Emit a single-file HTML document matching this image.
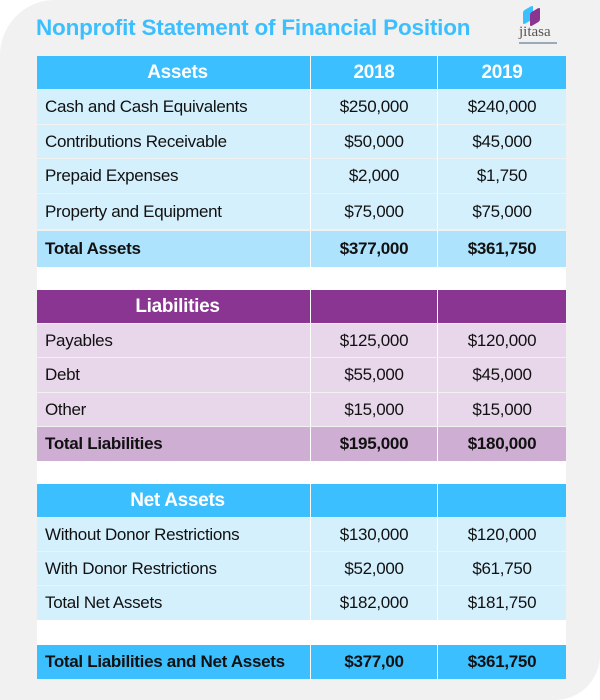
<!DOCTYPE html>
<html><head><meta charset="utf-8"><style>
body{margin:0;width:600px;height:700px;background:#fff;position:relative;overflow:hidden;font-family:"Liberation Sans",sans-serif}
#bg{position:absolute;left:0;top:0;width:600px;height:700px;background:#f1f1f1;border-top-left-radius:55px;border-bottom-right-radius:45px}
.r{position:absolute;left:37px;width:529px;display:flex;gap:1px;background:#fff}
.c{display:flex;align-items:center;font-size:17px;color:#111;letter-spacing:-0.3px}
.c1{width:273px;padding-left:8px;box-sizing:border-box}
.c2{width:126px;justify-content:center}
.c3{width:128px;justify-content:center}
.h .c{color:#fff;font-weight:bold;font-size:19px}
.h .c1{justify-content:center}
.t .c{font-weight:bold}
</style></head><body>
<div id="bg"></div>
<div style="position:absolute;left:36px;top:15px;font-size:22.5px;font-weight:bold;color:#3bbfff;letter-spacing:-0.2px">Nonprofit Statement of Financial Position</div>
<div style="position:absolute;left:515px;top:6px;width:48px;height:44px">
<div style="position:absolute;left:8px;top:2px;width:10px;height:14px;background:#3bbfff;transform:skewY(-30deg);border-radius:2px"></div>
<div style="position:absolute;left:15px;top:4px;width:10px;height:14px;background:#8b3593;transform:skewY(-30deg);border-radius:2px"></div>
<div style="position:absolute;left:4px;top:18px;font-size:15px;color:#555;font-family:'Liberation Serif',serif">jitasa</div>
<div style="position:absolute;left:4px;top:36px;width:38px;height:2px;background:#9ab"></div>
</div>
<div id="tbl"></div>
<script>
const rows=[
["h",56,33,"#3bbfff","Assets","2018","2019"],
["",90,34,"#d4f0fd","Cash and Cash Equivalents","$250,000","$240,000"],
["",125,33,"#d4f0fd","Contributions Receivable","$50,000","$45,000"],
["",159,34,"#d4f0fd","Prepaid Expenses","$2,000","$1,750"],
["",194,35,"#d4f0fd","Property and Equipment","$75,000","$75,000"],
["t",231,36,"#ade3fc","Total Assets","$377,000","$361,750"],
["h",290,33,"#8b3593","Liabilities","",""],
["",324,33,"#e8d6ea","Payables","$125,000","$120,000"],
["",358,34,"#e8d6ea","Debt","$55,000","$45,000"],
["",393,33,"#e8d6ea","Other","$15,000","$15,000"],
["t",427,34,"#cfaed4","Total Liabilities","$195,000","$180,000"],
["h",484,33,"#3bbfff","Net Assets","",""],
["",518,33,"#d4f0fd","Without Donor Restrictions","$130,000","$120,000"],
["",552,33,"#d4f0fd","With Donor Restrictions","$52,000","$61,750"],
["",586,34,"#d4f0fd","Total Net Assets","$182,000","$181,750"],
["t",645,34,"#3bbfff","Total Liabilities and Net Assets","$377,00","$361,750"]];
const gaps=[[267,23],[461,23],[620,25]];
const T=document.getElementById('tbl');
gaps.forEach(g=>{const d=document.createElement('div');


d.style.cssText=`position:absolute;left:37px;top:${g[0]}px;width:529px;height:${g[1]}px;background:#fff`;T.appendChild(d);});
rows.forEach(r=>{const d=document.createElement('div');d.className='r '+r[0];


d.style.top=r[1]+'px';d.style.height=r[2]+'px';
['c1','c2','c3'].forEach((k,i)=>{const c=document.createElement('div');c.className='c '+k;c.style.background=r[3];c.textContent=r[4+i];


d.appendChild(c);});T.appendChild(d);});
</script>
</body></html>
